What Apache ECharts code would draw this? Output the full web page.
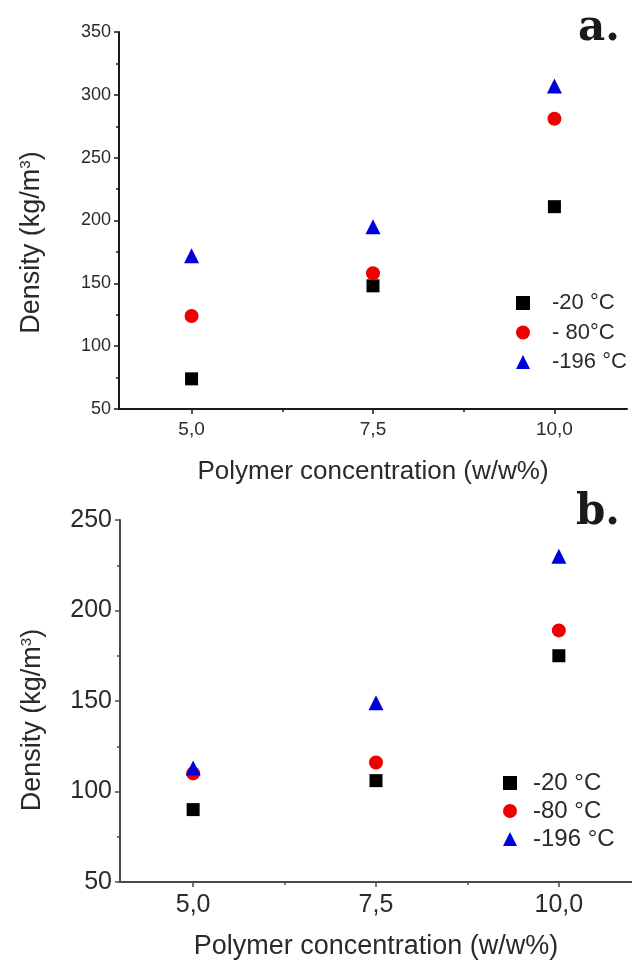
<!DOCTYPE html>
<html>
<head>
<meta charset="utf-8">
<script src="https://cdn.jsdelivr.net/npm/echarts@6/dist/echarts.min.js"></script>
<style>
  html, body { margin: 0; padding: 0; background: #fff; }
</style>
</head>
<body>
<div id="main" style="width:632px;height:966px;"></div>
<script>
// polymer concentration (w/w%)
var concentration = [5.0, 7.5, 10.0];
var xMajorTicks = [5.0, 7.5, 10.0];
var xMinorTicks = [6.25, 8.75];
var seriesNames = ['-20 °C', '-80 °C', '-196 °C'];
var legendNamesA = ['-20 °C', '- 80°C', '-196 °C'];

// panel a. densities (kg/m3)
var densityA_20 = [74, 148, 211];
var densityA_80 = [124, 158, 281];
var densityA_196 = [172, 195, 307];

// panel b. densities (kg/m3)
var densityB_20 = [90, 106, 175];
var densityB_80 = [110, 116, 189];
var densityB_196 = [113, 149, 230];

var colors = ['#000000', '#ee0000', '#0000dd'];
var symbols = ['rect', 'circle', 'triangle'];
var symbolSizes = [13, 14, 15];
var font = 'Liberation Sans, Arial, sans-serif';

function pts(vals) {
  return concentration.map(function (c, i) { return [c, vals[i]]; });
}
function fmtComma(v) {
  return v.toFixed(1).replace('.', ',');
}

function xAxes(gridIndex, fontSize, axisColor, titleSize, nameGap) {
  return [{
    gridIndex: gridIndex,
    type: 'value',
    min: 4, max: 11,
    name: 'Polymer concentration (w/w%)',
    nameLocation: 'middle',
    nameGap: nameGap,
    nameTextStyle: { fontFamily: font, fontSize: titleSize, color: '#2a2a2a' },
    splitLine: { show: false },
    axisLine: { show: true, onZero: false, lineStyle: { color: axisColor, width: 2 } },
    axisTick: { show: true, inside: false, length: 5, customValues: xMajorTicks, lineStyle: { color: axisColor, width: 1.5 } },
    axisLabel: { customValues: xMajorTicks, formatter: fmtComma, fontFamily: font, fontSize: fontSize, color: '#2a2a2a', margin: 11 }
  }, {
    gridIndex: gridIndex,
    type: 'value',
    min: 4, max: 11,
    position: 'bottom',
    splitLine: { show: false },
    axisLine: { show: false },
    axisTick: { show: true, inside: false, length: 3, customValues: xMinorTicks, lineStyle: { color: axisColor, width: 1.5 } },
    axisLabel: { show: false }
  }];
}

function yAxis(gridIndex, max, fontSize, axisColor, nameGap, shift) {
  return {
    gridIndex: gridIndex,
    type: 'value',
    min: 50, max: max, interval: 50,
    name: 'Density (kg/m{sup|3})',
    nameLocation: 'middle',
    nameGap: nameGap,
    nameRotate: 90,
    nameTextStyle: {
      fontFamily: font, fontSize: 27, color: '#2a2a2a',
      padding: [0, shift, 0, 0],
      rich: { sup: { fontFamily: font, fontSize: 15, color: '#2a2a2a', verticalAlign: 'top', padding: [0, 0, 12, 0] } }
    },
    splitLine: { show: false },
    axisLine: { show: true, onZero: false, lineStyle: { color: axisColor, width: 2 } },
    axisTick: { show: true, inside: false, length: 5, lineStyle: { color: axisColor, width: 1.5 } },
    minorTick: { show: true, splitNumber: 2, length: 3, lineStyle: { color: axisColor, width: 1.5 } },
    axisLabel: { fontFamily: font, fontSize: fontSize, color: '#2a2a2a', margin: 8 }
  };
}

function scatter(name, vals, k, xi, yi) {
  return {
    name: name,
    type: 'scatter',
    xAxisIndex: xi,
    yAxisIndex: yi,
    symbol: symbols[k],
    symbolSize: symbolSizes[k],
    itemStyle: { color: colors[k], opacity: 1 },
    data: pts(vals)
  };
}

var chart = echarts.init(document.getElementById('main'));
chart.setOption({
  backgroundColor: '#fff',
  animation: false,
  grid: [
    { left: 119, right: 5, top: 32, bottom: 557, containLabel: false },
    { left: 120, right: -3, top: 520, bottom: 84, containLabel: false }
  ],
  xAxis: xAxes(0, 19, '#1a1a1a', 26, 50).concat(xAxes(1, 25, '#4a4a4a', 27, 51)),
  yAxis: [
    yAxis(0, 350, 18, '#1a1a1a', 74, 44),
    yAxis(1, 250, 25, '#4a4a4a', 74, 38)
  ],
  legend: [{
    data: seriesNames.map(function (n, k) { return { name: n, icon: symbols[k], itemStyle: { opacity: 1 } }; }),
    formatter: function (n) { return legendNamesA[seriesNames.indexOf(n)]; },
    orient: 'vertical',
    left: 511, top: 287,
    itemWidth: 14, itemHeight: 14, itemGap: 7.5,
    textStyle: { fontFamily: font, fontSize: 22, color: '#2a2a2a', padding: [0, 0, 0, 17] },
    selectedMode: false
  }, {
    data: ['b-20', 'b-80', 'b-196'].map(function (n, k) { return { name: n, icon: symbols[k], itemStyle: { opacity: 1 } }; }),
    formatter: function (n) { return seriesNames[['b-20', 'b-80', 'b-196'].indexOf(n)]; },
    orient: 'vertical',
    left: 498, top: 766,
    itemWidth: 14, itemHeight: 14, itemGap: 4,
    textStyle: { fontFamily: font, fontSize: 24, color: '#2a2a2a', padding: [0, 0, 0, 11] },
    selectedMode: false
  }],
  graphic: [
    { type: 'text', left: 578, top: 8, style: { text: 'a.', font: 'bold 42px "DejaVu Serif", "Liberation Serif", serif', fill: '#1a1a1a' } },
    { type: 'text', left: 576, top: 492, style: { text: 'b.', font: 'bold 42px "DejaVu Serif", "Liberation Serif", serif', fill: '#1a1a1a' } }
  ],
  series: [
    scatter('-20 °C', densityA_20, 0, 0, 0),
    scatter('-80 °C', densityA_80, 1, 0, 0),
    scatter('-196 °C', densityA_196, 2, 0, 0),
    scatter('b-20', densityB_20, 0, 2, 1),
    scatter('b-80', densityB_80, 1, 2, 1),
    scatter('b-196', densityB_196, 2, 2, 1)
  ]
});
</script>
</body>
</html>
